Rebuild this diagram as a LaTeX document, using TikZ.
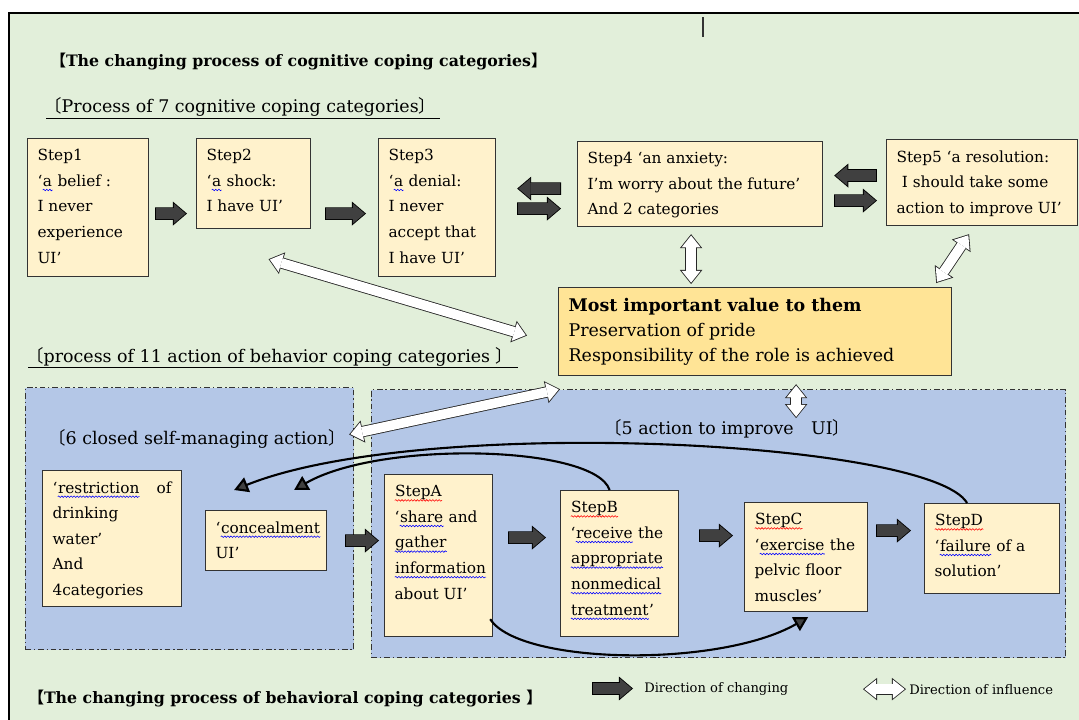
\documentclass[tikz,border=0pt]{standalone}
\usepackage{fontspec}
\setmainfont{DejaVu Serif}
\newfontfamily\cjk{Noto Sans CJK SC}
\usetikzlibrary{arrows.meta,calc,decorations.pathmorphing}

\definecolor{bggreen}{RGB}{226,239,218}
\definecolor{regblue}{RGB}{180,199,231}
\definecolor{boxcream}{RGB}{255,242,204}
\definecolor{valgold}{RGB}{255,228,150}
\definecolor{arrowgray}{RGB}{64,64,64}

% brackets from the CJK font
\newcommand\lenL{{\cjk 【}}
\newcommand\lenR{{\cjk 】}}
\newcommand\shellL{{\cjk 〔}}
\newcommand\shellR{{\cjk 〕}}

% spell-check waves
\newcommand\wavy[2]{\tikz[baseline=(w.base)]{\node[inner sep=0pt] (w) {#2};
  \draw[#1, line width=0.4pt, decorate, decoration={snake, amplitude=0.55pt, segment length=2.2pt}]
    ($(w.base west)+(0pt,-2.6pt)$) -- ($(w.base east)+(0pt,-2.6pt)$);}}
\newcommand\bwv[1]{\wavy{blue}{#1}}
\newcommand\rwv[1]{\wavy{red}{#1}}

% text block of a box, top aligned; #1 #2 = outer width and height
\newcommand\boxlines[3]{\parbox[t][\dimexpr#2-0.54cm\relax][t]{\dimexpr#1-0.5cm\relax}{\raggedright#3}}

\tikzset{
  stepbox/.style={draw=black!80, line width=0.8pt, fill=boxcream, anchor=north west,
    inner xsep=0.25cm, inner ysep=0.27cm},
  valbox/.style={stepbox, fill=valgold, font=\fontsize{12.4}{17.7}\selectfont},
  region/.style={draw=black!80, line width=0.7pt, fill=regblue, anchor=north west, inner sep=0pt,
    dash pattern=on 4pt off 2pt on 1pt off 2pt},
  heading/.style={anchor=base west, inner sep=0pt, font=\fontsize{11.2}{13}\selectfont\bfseries},
  subhead/.style={anchor=base west, inner sep=0pt, font=\fontsize{12.4}{14}\selectfont},
  legend/.style={anchor=base west, inner sep=0pt, font=\fontsize{9.3}{11}\selectfont},
  chg/.style={-{Triangle[width=17pt,length=10pt,line width=0pt]}, line width=9pt, draw=black,
    postaction={draw=arrowgray, line width=7.8pt, shorten >=0.93pt, shorten <=0.6pt,
      -{Triangle[width=14.4pt,length=8.47pt,line width=0pt]}}},
  infl/.style={{Triangle[width=16pt,length=10pt,line width=0pt]}-{Triangle[width=16pt,length=10pt,line width=0pt]},
    line width=8pt, draw=black!85,
    postaction={draw=white, line width=6.8pt, shorten >=0.96pt, shorten <=0.96pt,
      {Triangle[width=13.5pt,length=8.44pt,line width=0pt]}-{Triangle[width=13.5pt,length=8.44pt,line width=0pt]}}},
  back/.style={-{Triangle[width=11pt,length=10pt,fill=arrowgray]}, line width=1.5pt, draw=black},
}

\begin{document}
\begin{tikzpicture}[x=0.025cm, y=-0.025cm, font=\fontsize{10.9}{18.2}\selectfont]
  \useasboundingbox (0,0) rectangle (1079,719);
  \clip (0,0) rectangle (1079,719);
  \fill[white] (0,0) rectangle (1079,719);
  \draw[line width=1.1pt, fill=bggreen] (9,13) rectangle (1095,735);
  \draw[line width=1pt, black!80] (703,17) -- (703,37);

  % dash-dot regions
  \node[region, minimum width=8.2cm, minimum height=6.55cm] (leftreg) at (25,387) {};
  \node[region, minimum width=17.35cm, minimum height=6.7cm] (rightreg) at (371,389) {};

  % headings
  \node[heading] (cogtitle) at (50,66) {\lenL The changing process of cognitive coping categories\lenR};
  \node[subhead] (cogsub) at (44,112) {\shellL Process of 7 cognitive coping categories\shellR};
  \draw[line width=0.6pt] ($(cogsub.base west)+(2,6)$) -- ++(394,0);
  \node[subhead] (behsub) at (26,362) {\shellL process of 11 action of behavior coping categories \shellR};
  \draw[line width=0.6pt] ($(behsub.base west)+(2,5)$) -- ++(490,0);
  \node[subhead] (six) at (48,444) {\shellL 6 closed self-managing action\shellR};
  \node[subhead] (five) at (604,434) {\shellL 5 action to improve\hspace{1em}UI\shellR};
  \node[heading] (behtitle) at (28,703) {\lenL The changing process of behavioral coping categories \lenR};

  % cognitive steps
  \node[stepbox] (s1) at (27,138) {\boxlines{3.025cm}{3.45cm}{Step1\\‘\bwv{a} belief :\\I never\\experience\\UI’}};
  \node[stepbox] (s2) at (196,138) {\boxlines{2.85cm}{2.25cm}{Step2\\‘\bwv{a} shock:\\I have UI’}};
  \node[stepbox] (s3) at (378,138) {\boxlines{2.925cm}{3.45cm}{Step3\\‘\bwv{a} denial:\\I never\\accept that\\I have UI’}};
  \node[stepbox] (s4) at (577,141) {\boxlines{6.125cm}{2.125cm}{Step4 ‘an anxiety:\\I’m worry about the future’\\And 2 categories}};
  \node[stepbox] (s5) at (886,139) {\boxlines{4.775cm}{2.15cm}{Step5 ‘a resolution:\\\hspace*{0.35em}I should take some\\action to improve UI’}};
  \node[valbox] (val) at (558,287) {\boxlines{9.825cm}{2.2cm}{%
    \textbf{Most important value to them}\\Preservation of pride\\Responsibility of the role is achieved}};

  % behavioral steps
  \node[stepbox] (restr) at (42,470) {\boxlines{3.475cm}{3.4cm}{‘\bwv{restriction}\hfill of\\drinking\\water’\\And\\4categories}};
  \node[stepbox] (conc) at (205,510) {\boxlines{3.025cm}{1.5cm}{‘\bwv{concealment}\\UI’}};
  \node[stepbox] (stA) at (384,474) {\boxlines{2.7cm}{4.05cm}{\rwv{StepA}\\‘\bwv{share} and\\\bwv{gather}\\\bwv{information}\\about UI’}};
  \node[stepbox] (stB) at (560,490) {\boxlines{2.95cm}{3.65cm}{\rwv{StepB}\\‘\bwv{receive} the\\\bwv{appropriate}\\\bwv{nonmedical}\\\bwv{treatment}’}};
  \node[stepbox] (stC) at (744,502) {\boxlines{3.075cm}{2.725cm}{\rwv{StepC}\\‘\bwv{exercise} the\\pelvic floor\\muscles’}};
  \node[stepbox] (stD) at (924,503) {\boxlines{3.375cm}{2.25cm}{\rwv{StepD}\\‘\bwv{failure} of a\\solution’}};

  % direction of changing
  \draw[chg] ($(s1.east)+(6,6)$) -- ($(s2.west)+(-9,30)$);
  \draw[chg] ($(s2.east)+(14,30)$) -- ($(s3.west)+(-12,6)$);
  \draw[chg] ($(s4.west)+(-16,4.5)$) -- ($(s3.east)+(21,-19)$);
  \draw[chg] ($(s3.east)+(21,1)$) -- ($(s4.west)+(-16,24.5)$);
  \draw[chg] ($(s5.west)+(-9,-7)$) -- ($(s4.east)+(11,-8.5)$);
  \draw[chg] ($(s4.east)+(11,16.5)$) -- ($(s5.west)+(-9,18)$);
  \draw[chg] ($(conc.east)+(18,0)$) -- ($(stA.west)+(-5,-15)$);
  \draw[chg] ($(stA.east)+(15,-18)$) -- ($(stB.west)+(-14,-26)$);
  \draw[chg] ($(stB.east)+(20,-28)$) -- ($(stC.west)+(-11,-21.5)$);
  \draw[chg] ($(stC.east)+(8,-26.5)$) -- ($(stD.west)+(-13,-18)$);
  \draw[back] ($(stD.north)+(-25,0)$) .. controls (930,440) and (420,415) .. ($(conc.north)+(-32,-20)$);
  \draw[back] ($(stB.north)+(-10,0)$) .. controls (595,445) and (380,440) .. ($(conc.north)+(28,-20)$);
  \draw[back] ($(stA.south east)+(-3,-18)$) .. controls (520,665) and (720,668) .. ($(stC.south)+(2,5)$);

  % direction of influence
  \draw[infl] ($(s4.south)+(-9,7)$) -- ($(s4.south |- val.north)+(-9,-3)$);
  \draw[infl] ($(s5.south)+(-13,8)$) -- ($(val.north east)+(-16,-4)$);
  \draw[infl] ($(s2.south)+(15,30)$) -- ($(val.west)+(-31,4)$);
  \draw[infl] ($(val.south)+(41,8)$) -- ($(val.south)+(41,42)$);
  \draw[infl] ($(val.south west)+(2,13)$) -- ($(six.east)+(3,-4)$);

  % legend
  \node[legend] (legchg) at (644,692) {Direction of changing};
  \node[legend] (leginf) at (909,694) {Direction of influence};
  \draw[chg] ($(legchg.west)+(-52,0)$) -- ($(legchg.west)+(-11,0)$);
  \draw[infl] ($(leginf.west)+(-46,0)$) -- ($(leginf.west)+(-3,0)$);
\end{tikzpicture}
\end{document}
